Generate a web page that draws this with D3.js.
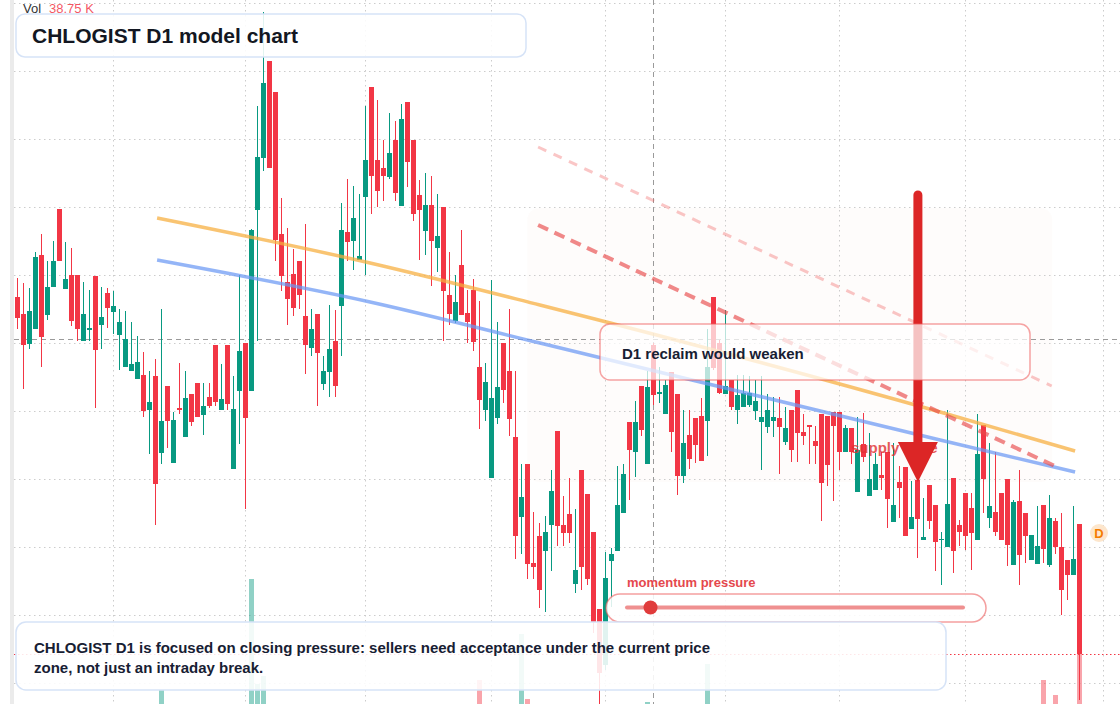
<!DOCTYPE html>
<html>
<head>
<meta charset="utf-8">
<script src="https://cdn.jsdelivr.net/npm/d3@7"></script>
<style>
  html, body { margin: 0; padding: 0; background: #fff; }
  svg { display: block; font-family: "Liberation Sans", Arial, sans-serif; }
</style>
</head>
<body>
<div id="chart"></div>
<script>
// ---- data ----
var opens = [
  70.3,68.6,65.6,67.1,74.5,68.5,71.3,79.1,71.1,72.5,
  72.5,65.9,67.0,72.4,67.5,70.7,68.8,66.5,63.3,62.9,
  62.1,62.5,59.0,62.4,54.7,61.4,53.7,59.2,56.3,60.6,
  61.7,58.5,60.3,65.5,59.0,65.5,53.1,60.9,65.7,60.9,
  79.0,84.2,93.9,90.8,76.6,71.8,72.6,73.9,68.4,65.2,
  68.6,61.6,62.8,65.9,69.4,76.8,75.9,74.0,80.3,91.3,
  84.0,83.2,82.3,86.0,79.4,89.8,86.0,80.5,76.9,79.5,
  75.2,79.3,70.5,67.9,73.5,68.7,71.0,63.3,59.0,52.2,
  58.2,65.7,62.9,56.3,48.3,53.6,43.7,46.4,44.9,47.5,
  56.9,47.5,48.6,41.6,53.0,50.6,46.8,39.1,33.5,43.9,
  44.9,48.7,57.8,54.8,61.4,53.6,65.5,60.6,58.6,62.8,
  60.6,52.4,56.5,58.2,58.4,57.9,70.3,65.7,60.6,62.0,
  59.0,59.3,59.5,58.9,57.8,57.3,57.9,58.2,55.8,59.0,
  61.0,56.8,57.5,55.9,58.6,58.4,58.8,58.8,54.8,57.2,
  50.8,55.6,50.4,51.0,52.5,54.8,47.8,51.8,53.3,47.1,
  52.0,46.0,51.5,49.5,46.0,45.3,52.2,47.5,50.7,49.2,
  46.0,57.5,48.2,48.8,50.7,52.1,43.5,49.9,48.7,44.0,
  43.6,49.5,43.5,47.9,45.3,44.0,42.5,47.6
];
var highs = [
  72.2,71.7,71.2,74.8,76.6,73.9,75.9,79.1,75.8,75.2,
  72.5,71.8,71.0,72.4,71.3,71.2,70.9,69.1,68.9,67.8,
  66.4,64.8,62.9,64.1,69.1,61.4,58.8,63.7,62.9,60.6,
  61.7,61.7,61.7,65.5,63.6,65.5,62.4,72.5,65.7,77.1,
  89.4,98.8,93.9,90.8,80.2,77.2,75.1,73.9,77.6,69.1,
  68.6,64.4,69.5,69.0,79.7,82.1,81.4,80.6,89.4,91.3,
  90.0,86.0,88.7,87.9,89.6,89.8,86.0,82.0,82.7,82.4,
  80.6,79.3,74.8,72.5,77.0,71.0,72.1,69.9,63.7,72.0,
  67.8,65.7,69.1,62.9,53.6,53.6,48.8,47.7,48.4,53.0,
  56.9,50.4,52.2,49.1,53.0,50.6,46.8,39.1,44.8,45.2,
  53.4,53.6,57.8,59.9,61.4,62.9,65.7,63.3,62.0,62.8,
  60.6,59.0,59.0,58.2,60.2,67.1,70.3,66.0,69.0,62.0,
  62.5,62.5,62.4,62.0,62.4,60.6,60.3,60.3,59.3,59.0,
  61.0,58.6,57.5,57.4,58.6,58.4,58.8,58.8,57.5,57.2,
  58.3,58.7,56.7,54.7,54.8,54.8,55.7,53.4,53.3,51.9,
  52.0,50.2,51.5,49.5,46.8,59.0,52.2,48.0,50.7,50.7,
  58.6,57.5,55.7,54.8,50.7,52.1,50.0,53.0,48.7,46.5,
  49.4,49.5,50.5,48.2,48.7,44.0,49.4,47.6
];
var lows = [
  67.1,61.1,65.1,67.1,63.3,68.0,71.3,73.9,71.1,67.4,
  65.9,65.9,65.9,59.2,65.1,67.2,66.6,63.0,63.3,62.9,
  62.1,58.3,54.6,47.5,53.6,55.2,53.7,58.6,56.3,57.4,
  58.3,56.5,59.2,59.4,59.0,59.0,53.1,55.6,49.1,60.9,
  65.9,82.9,83.2,73.9,70.9,67.5,68.4,69.1,62.6,64.4,
  59.4,61.0,60.3,60.3,64.4,73.9,73.0,74.0,72.5,78.6,
  79.3,79.9,82.1,79.9,79.4,81.3,77.9,74.0,74.5,71.4,
  72.8,65.9,67.5,67.7,68.5,65.7,64.9,57.1,57.9,52.2,
  57.6,59.7,56.4,44.1,44.6,42.1,42.1,39.2,38.8,42.9,
  45.4,45.4,45.7,40.7,41.0,41.5,36.7,28.8,33.0,39.3,
  44.9,48.7,50.0,52.3,56.4,53.6,59.5,59.7,58.6,54.8,
  50.5,51.7,53.1,53.7,53.9,54.4,63.0,60.6,60.6,59.0,
  57.6,59.3,59.3,58.0,53.0,56.7,56.3,52.6,55.5,53.8,
  53.8,55.5,53.6,53.6,47.9,51.4,49.9,53.0,54.8,53.6,
  50.8,53.8,50.4,51.0,51.0,47.2,47.8,48.2,46.4,47.1,
  44.2,46.0,47.1,42.9,41.5,45.3,42.7,45.4,45.0,43.0,
  46.0,48.7,47.2,46.4,46.0,43.4,43.5,41.5,43.7,44.0,
  43.6,43.7,43.3,44.6,38.5,40.0,42.5,30.0
];
var closes = [
  68.2,65.5,68.9,74.3,66.3,71.3,73.9,73.9,72.1,67.9,
  67.1,68.6,67.2,65.0,68.3,69.2,69.4,67.8,66.1,63.6,
  63.8,58.9,59.8,51.6,57.9,57.9,58.0,59.0,60.2,57.8,
  58.3,59.4,59.4,59.8,60.1,59.6,59.1,64.9,58.2,77.0,
  84.3,91.7,83.2,76.0,72.4,70.1,69.2,70.5,65.5,67.1,
  64.7,62.9,65.1,61.4,77.0,75.8,78.2,74.4,84.0,82.4,
  80.9,82.4,84.7,80.7,88.1,83.8,78.6,79.0,79.5,75.9,
  76.4,70.9,68.6,69.8,68.5,67.8,65.8,60.0,61.8,60.2,
  61.3,61.0,58.1,46.4,50.3,43.6,43.3,41.0,46.8,50.9,
  47.4,46.7,46.7,43.0,43.3,42.1,37.8,32.7,42.2,44.6,
  49.5,52.6,55.0,57.8,57.0,61.3,60.5,60.8,61.5,56.8,
  52.4,55.7,54.1,55.5,53.9,63.3,63.2,60.7,61.4,59.3,
  60.5,60.7,60.7,59.9,58.3,59.0,58.3,57.3,57.2,55.0,
  56.7,56.4,57.3,55.4,51.7,53.5,57.4,54.8,57.2,54.8,
  55.0,54.3,52.1,53.6,52.2,50.1,49.5,51.2,46.4,48.3,
  48.1,46.3,47.9,45.8,46.1,49.6,44.9,46.8,46.4,46.7,
  54.6,52.1,49.4,46.8,46.0,45.5,49.8,44.5,46.4,46.5,
  45.4,45.1,48.2,45.3,41.0,42.5,44.1,34.6
];
// volume in thousands
var volumes = [
  14,18,12,17,19,11,10,16,9,13,
  12,10,8,17,9,8,7,10,11,8,
  9,14,12,20,25,13,12,9,11,8,
  10,7,6,13,8,14,15,19,20,52.75,
  26.5,28.5,21,20,15,12,11,10,14,9,
  12,8,11,12,19,10,11,8,18,20,
  13,9,10,12,17,15,16,9,10,13,
  8,18,10,9,12,8,13,27.5,12,20,
  14,13,15,21,39,22.75,10,16,12,14,
  19,9,10,12,18,17,20,21,21,11,
  15,13,12,11,13,22,14,8,9,13,
  17,11,9,10,12,31.5,18,14,11,9,
  8,7,7,8,10,8,6,9,7,10,
  12,6,7,6,15,13,10,11,8,9,
  13,8,10,9,6,12,11,7,14,8,
  12,6,10,11,7,16,15,6,10,9,
  18,14,9,10,12,14,15,16,9,8,
  10,27.5,14,23.75,17,9,12,38.75
];

// first candle of each month (vertical grid)
var monthStarts = [16, 38, 58, 79, 98, 118, 137, 158, 181];
// horizontal grid levels
var priceGrid = [99.7, 92.9, 86.1, 79.3, 72.5, 65.7, 58.9, 52.1, 45.3, 38.5, 31.7];

// overlay drawings: [candle index, price]
var orangeLine = [[23.3,78.2],[58.8,73.7],[87.1,69.5],[153.8,58.8],[176.3,54.9]];
var blueLine   = [[23.3,74.0],[58.8,69.8],[87.1,65.7],[153.8,56.0],[176.3,52.8]];
var redDash    = [[86.8,77.5],[172.9,53.4]];
var redDashLight = [[86.8,85.3],[172.4,61.4]];
var zone = {i0: 85, i1: 172.5, top: 79.2, bottom: 51.8};
var arrow = {i: 150.1, from: 80.5, base: 55.8, tip: 51.8};
var crossIndex = 106, crossPrice = 66.1;
var momentum = 0.07;

// ---- setup ----
var width = 1120, height = 704;
var upColor = "#089981", downColor = "#f23645";

var x = d3.scaleLinear().domain([0, 177]).range([17.3, 1079.3]);
var y = d3.scaleLinear().domain([100, 29.6]).range([0, 704]);
var yVol = d3.scaleLinear().domain([0, 100]).range([790, 390]);

var candles = opens.map(function(o, i) {
  return {i: i, o: o, h: highs[i], l: lows[i], c: closes[i], v: volumes[i]};
});

var svg = d3.select("#chart").append("svg")
    .attr("width", width)
    .attr("height", height);

svg.append("rect").attr("width", width).attr("height", height).attr("fill", "#fff");

// left price axis edge
svg.append("rect")
    .attr("x", 10).attr("y", 0)
    .attr("width", 4).attr("height", height)
    .attr("fill", "#ebebeb");

// supply zone shading
svg.append("rect")
    .attr("x", x(zone.i0)).attr("y", y(zone.top))
    .attr("width", x(zone.i1) - x(zone.i0))
    .attr("height", y(zone.bottom) - y(zone.top))
    .attr("rx", 12)
    .attr("fill", "rgba(240,205,180,0.05)");

// grid
var grid = svg.append("g")
    .attr("stroke", "#cccccc")
    .attr("stroke-dasharray", "1.5,3.5");

grid.selectAll("line.h")
    .data(priceGrid)
  .enter().append("line")
    .attr("class", "h")
    .attr("x1", 14).attr("x2", width)
    .attr("y1", function(d) { return Math.round(y(d)) + 0.5; })
    .attr("y2", function(d) { return Math.round(y(d)) + 0.5; });

grid.selectAll("line.v")
    .data(monthStarts)
  .enter().append("line")
    .attr("class", "v")
    .attr("y1", 0).attr("y2", height)
    .attr("x1", function(d) { return Math.round(x(d)) + 0.5; })
    .attr("x2", function(d) { return Math.round(x(d)) + 0.5; });

// crosshair
svg.append("line")
    .attr("x1", 14).attr("x2", width)
    .attr("y1", Math.round(y(crossPrice)) + 0.5).attr("y2", Math.round(y(crossPrice)) + 0.5)
    .attr("stroke", "#9a9a9a").attr("stroke-dasharray", "5,4");
svg.append("line")
    .attr("y1", 0).attr("y2", height)
    .attr("x1", Math.round(x(crossIndex)) + 0.5).attr("x2", Math.round(x(crossIndex)) + 0.5)
    .attr("stroke", "#9a9a9a").attr("stroke-dasharray", "5,4");

// last price line
var lastY = Math.round(y(closes[closes.length - 1])) + 0.5;
svg.append("line")
    .attr("x1", 14).attr("x2", width)
    .attr("y1", lastY).attr("y2", lastY)
    .attr("stroke", downColor).attr("stroke-dasharray", "1.5,2.5");

// volume
svg.append("g").selectAll("rect")
    .data(candles)
  .enter().append("rect")
    .attr("x", function(d) { return Math.round(x(d.i)) - 2; })
    .attr("width", 5)
    .attr("y", function(d) { return yVol(d.v); })
    .attr("height", function(d) { return yVol(0) - yVol(d.v); })
    .attr("fill", function(d) { return d.c >= d.o ? upColor : downColor; })
    .attr("opacity", 0.45);

// candles
var cg = svg.append("g").selectAll("g")
    .data(candles)
  .enter().append("g")
    .attr("fill", function(d) { return d.c >= d.o ? upColor : downColor; })
    .attr("stroke", function(d) { return d.c >= d.o ? upColor : downColor; });

cg.append("line")
    .attr("x1", function(d) { return Math.round(x(d.i)) + 0.5; })
    .attr("x2", function(d) { return Math.round(x(d.i)) + 0.5; })
    .attr("y1", function(d) { return y(d.h); })
    .attr("y2", function(d) { return y(d.l); })
    .attr("stroke-width", 1);

cg.append("rect")
    .attr("stroke", "none")
    .attr("x", function(d) { return Math.round(x(d.i)) - 2; })
    .attr("width", 5)
    .attr("y", function(d) { return y(Math.max(d.o, d.c)); })
    .attr("height", function(d) { return Math.max(1, Math.abs(y(d.o) - y(d.c))); });

// trend lines
var line = d3.line()
    .x(function(d) { return x(d[0]); })
    .y(function(d) { return y(d[1]); });
var curve = d3.line()
    .x(function(d) { return x(d[0]); })
    .y(function(d) { return y(d[1]); })
    .curve(d3.curveMonotoneX);

svg.append("path").attr("d", curve(orangeLine))
    .attr("fill", "none").attr("stroke", "#f6ad3c").attr("stroke-width", 3.5)
    .attr("stroke-opacity", 0.72);
svg.append("path").attr("d", curve(blueLine))
    .attr("fill", "none").attr("stroke", "#6b98f4").attr("stroke-width", 3.5)
    .attr("stroke-opacity", 0.72);
svg.append("path").attr("d", line(redDashLight))
    .attr("fill", "none").attr("stroke", "#ef4d4d").attr("stroke-width", 3)
    .attr("stroke-dasharray", "9,8").attr("stroke-opacity", 0.32);
svg.append("path").attr("d", line(redDash))
    .attr("fill", "none").attr("stroke", "#e84a4a").attr("stroke-width", 4)
    .attr("stroke-dasharray", "11,7").attr("stroke-opacity", 0.65);

// supply zone label (under the arrow)
svg.append("text")
    .attr("x", 851).attr("y", 453)
    .attr("font-size", 15).attr("font-weight", "bold")
    .attr("fill", "#e03131").attr("opacity", 0.8)
    .text("supply zone");

// arrow
var ax = x(arrow.i);
svg.append("line")
    .attr("x1", ax).attr("x2", ax)
    .attr("y1", y(arrow.from)).attr("y2", y(arrow.base) + 3)
    .attr("stroke", "#dc2626").attr("stroke-width", 9)
    .attr("stroke-linecap", "round");
svg.append("path")
    .attr("d", "M" + (ax - 20) + "," + y(arrow.base) + "L" + (ax + 20) + "," + y(arrow.base) +
               "L" + ax + "," + y(arrow.tip) + "Z")
    .attr("fill", "#dc2626");

// "D" badge
svg.append("circle").attr("cx", 1099).attr("cy", 533).attr("r", 9).attr("fill", "#fde6cc");
svg.append("text").attr("x", 1099).attr("y", 538).attr("text-anchor", "middle")
    .attr("font-size", 13).attr("font-weight", "bold").attr("fill", "#f57c00").text("D");

// reclaim note
svg.append("rect")
    .attr("x", 600).attr("y", 324).attr("width", 430).attr("height", 56).attr("rx", 10)
    .attr("fill", "rgba(255,255,255,0.72)")
    .attr("stroke", "rgba(238,90,90,0.55)").attr("stroke-width", 1.5);
svg.append("text")
    .attr("x", 622).attr("y", 359)
    .attr("font-size", 15).attr("font-weight", "bold").attr("fill", "#172033")
    .text("D1 reclaim would weaken");

// momentum gauge
var mScale = d3.scaleLinear().domain([0, 1]).range([627, 963]);
svg.append("text")
    .attr("x", 627).attr("y", 587)
    .attr("font-size", 13).attr("font-weight", "bold").attr("fill", "#e5484d")
    .text("momentum pressure");
svg.append("rect")
    .attr("x", 606).attr("y", 594).attr("width", 380).attr("height", 28).attr("rx", 14)
    .attr("fill", "rgba(255,255,255,0.85)")
    .attr("stroke", "rgba(235,80,80,0.55)").attr("stroke-width", 1.5);
svg.append("line")
    .attr("x1", mScale(0)).attr("x2", mScale(1))
    .attr("y1", 607.5).attr("y2", 607.5)
    .attr("stroke", "rgba(228,70,70,0.6)").attr("stroke-width", 4)
    .attr("stroke-linecap", "round");
svg.append("circle")
    .attr("cx", mScale(momentum)).attr("cy", 607.5).attr("r", 7)
    .attr("fill", "#e03b3b");

// bottom note
svg.append("rect")
    .attr("x", 16).attr("y", 622).attr("width", 930).attr("height", 68).attr("rx", 10)
    .attr("fill", "rgba(255,255,255,0.88)")
    .attr("stroke", "#d6e3f7").attr("stroke-width", 1.5);
var note = svg.append("text")
    .attr("font-size", 15).attr("font-weight", "bold").attr("fill", "#172033");
note.append("tspan").attr("x", 34).attr("y", 653)
    .text("CHLOGIST D1 is focused on closing pressure: sellers need acceptance under the current price");
note.append("tspan").attr("x", 34).attr("y", 673)
    .text("zone, not just an intraday break.");

// title
svg.append("rect")
    .attr("x", 16).attr("y", 14).attr("width", 510).attr("height", 43).attr("rx", 9)
    .attr("fill", "rgba(255,255,255,0.88)")
    .attr("stroke", "#d6e3f7").attr("stroke-width", 1.5);
svg.append("text")
    .attr("x", 32).attr("y", 43)
    .attr("font-size", 21).attr("font-weight", "bold").attr("fill", "#131722")
    .text("CHLOGIST D1 model chart");

// volume legend
var vol = svg.append("text").attr("x", 23).attr("y", 13).attr("font-size", 13);
vol.append("tspan").attr("fill", "#333").text("Vol");
vol.append("tspan").attr("x", 49).attr("fill", downColor).attr("fill-opacity", 0.85)
    .text(d3.format(".2f")(volumes[volumes.length - 1]) + " K");
</script>
</body>
</html>
